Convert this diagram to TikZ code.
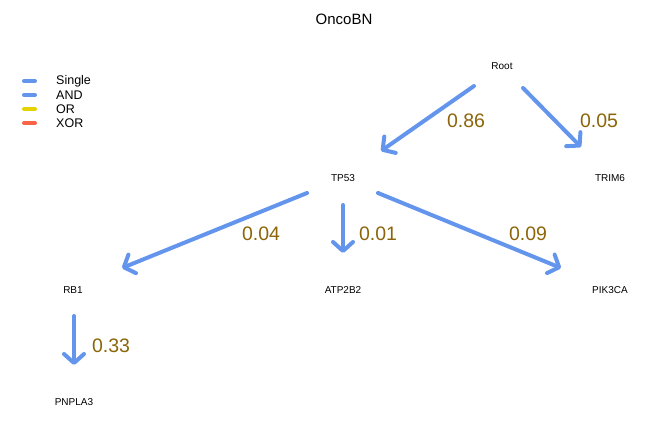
\documentclass[tikz,border=0pt]{standalone}
\usepackage{fontspec}
\setmainfont{Liberation Sans}
\usetikzlibrary{arrows.meta}
\definecolor{edgeblue}{RGB}{100,149,237}
\definecolor{lblgold}{RGB}{139,101,8}
\definecolor{orgold}{RGB}{230,210,0}
\definecolor{xorred}{RGB}{250,100,70}
\begin{document}
\begin{tikzpicture}[x=1pt,y=-1pt,
  gene/.style={font=\fontsize{10}{11}\selectfont, text=black, inner sep=0pt},
  edge/.style={draw=edgeblue, line width=4pt, line cap=round, line join=round,
    -{Straight Barb[length=9pt,width=20pt,line cap=round,line join=round]}},
  prob/.style={font=\fontsize{19.5}{21}\selectfont, text=lblgold, inner sep=0pt},
  leg/.style={line width=4pt, line cap=round},
  legtxt/.style={font=\fontsize{12.5}{13}\selectfont, anchor=west, inner sep=0pt}]
\useasboundingbox (0,0) rectangle (655,431);
\node[font=\fontsize{15}{17}\selectfont] (title) at (344,19) {OncoBN};
% genes
\node[gene] (root) at (502,66) {Root};
\node[gene] (trim6) at (610,178) {TRIM6};
\node[gene] (tp53) at (343,178) {TP53};
\node[gene] (rb1) at (73,290) {RB1};
\node[gene] (atp) at (343,290) {ATP2B2};
\node[gene] (pik) at (610,290) {PIK3CA};
\node[gene] (pnp) at (74,402) {PNPLA3};
% edge endpoints
\coordinate (e1s) at (474,86); \coordinate (e1t) at (381,151);
\coordinate (e2s) at (523,88); \coordinate (e2t) at (581,147);
\coordinate (e3s) at (307,193); \coordinate (e3t) at (122,268);
\coordinate (e4s) at (343,205); \coordinate (e4t) at (343,253);
\coordinate (e5s) at (378,193); \coordinate (e5t) at (561,268);
\coordinate (e6s) at (74,316); \coordinate (e6t) at (74,365);
\draw[edge] (e1s) -- (e1t);
\draw[edge] (e2s) -- (e2t);
\draw[edge] (e3s) -- (e3t);
\draw[edge] (e4s) -- (e4t);
\draw[edge] (e5s) -- (e5t);
\draw[edge] (e6s) -- (e6t);
% probabilities
\node[prob] (p1) at (466,121) {0.86};
\node[prob] (p2) at (599,121) {0.05};
\node[prob] (p3) at (261,234) {0.04};
\node[prob] (p4) at (378,234) {0.01};
\node[prob] (p5) at (528,234) {0.09};
\node[prob] (p6) at (111,346) {0.33};
% legend
\coordinate (l1a) at (24,81); \coordinate (l1b) at (35,81);
\coordinate (l2a) at (24,95); \coordinate (l2b) at (35,95);
\coordinate (l3a) at (24,109); \coordinate (l3b) at (35,109);
\coordinate (l4a) at (24,123); \coordinate (l4b) at (35,123);
\draw[leg, edgeblue] (l1a) -- (l1b);
\draw[leg, edgeblue] (l2a) -- (l2b);
\draw[leg, orgold] (l3a) -- (l3b);
\draw[leg, xorred] (l4a) -- (l4b);
\node[legtxt] (t1) at (56,81) {Single};
\node[legtxt] (t2) at (56,95) {AND};
\node[legtxt] (t3) at (56,109) {OR};
\node[legtxt] (t4) at (56,123) {XOR};
\end{tikzpicture}
\end{document}
